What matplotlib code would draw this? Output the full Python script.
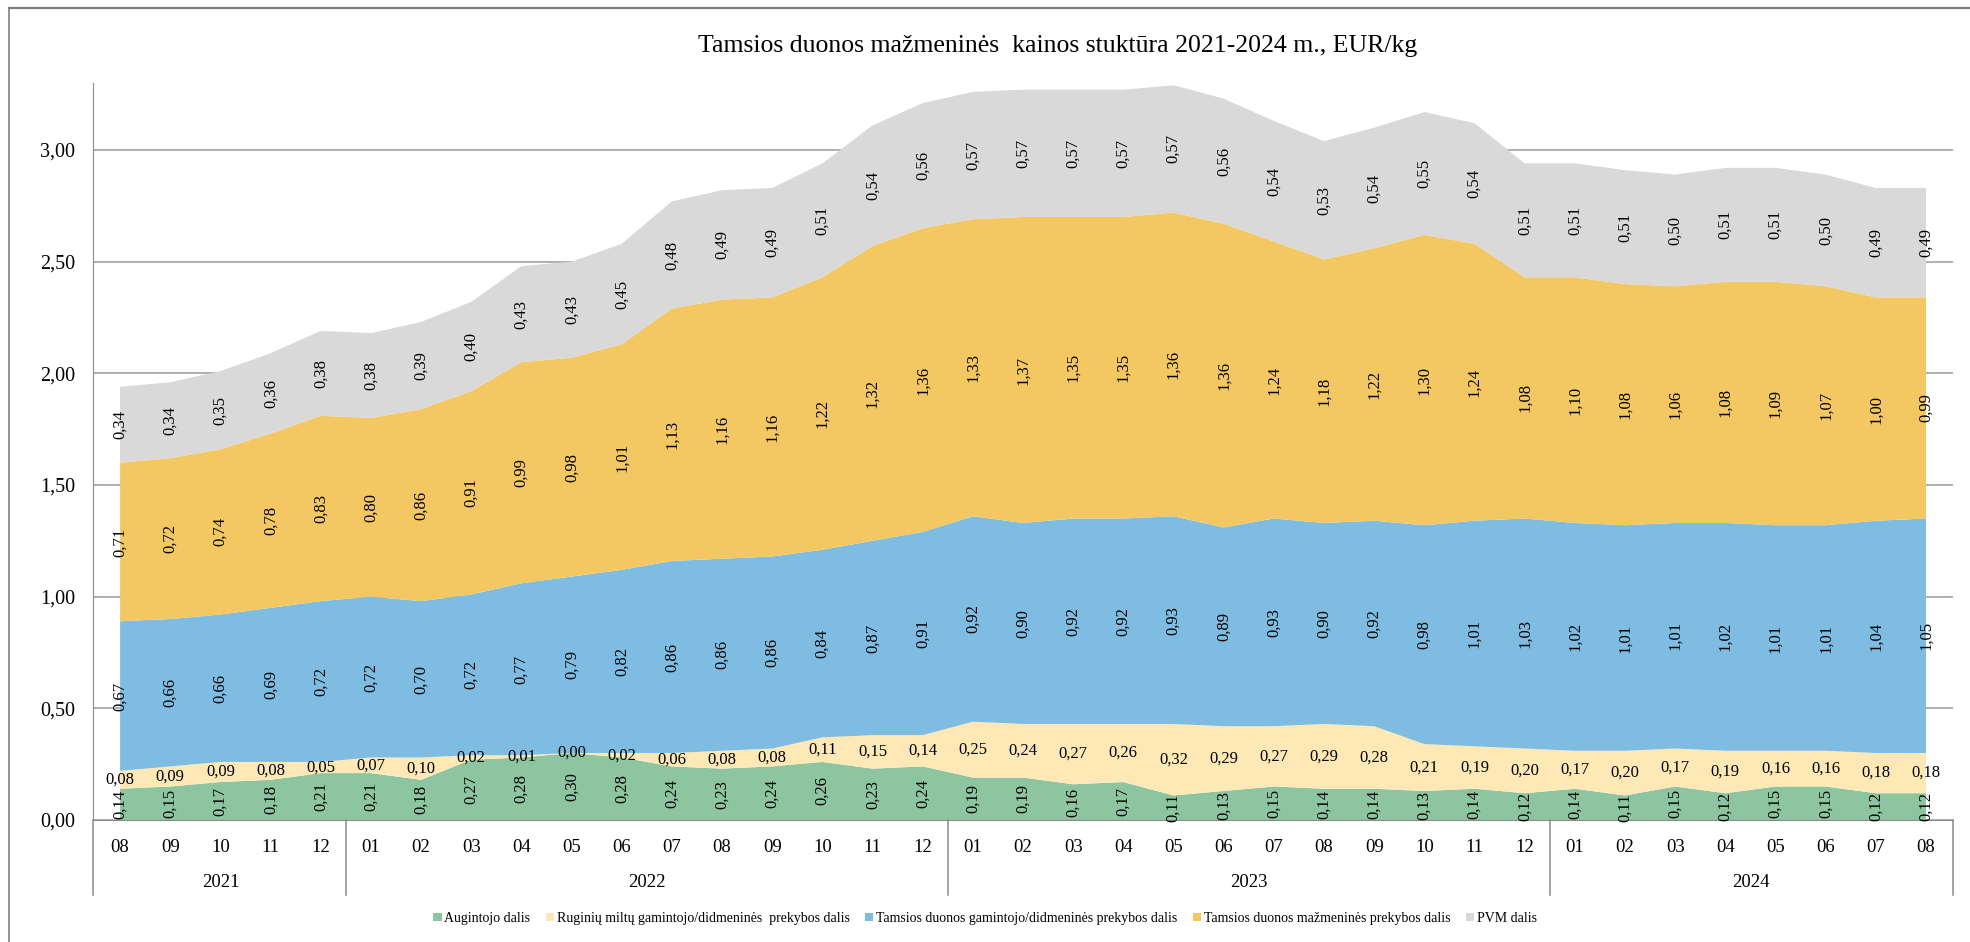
import numpy as np
import matplotlib
matplotlib.use('Agg')
from matplotlib import pyplot as plt
from matplotlib.lines import Line2D

plt.rcParams['font.family'] = ['Liberation Serif', 'DejaVu Serif']

title = 'Tamsios duonos mažmeninės  kainos stuktūra 2021-2024 m., EUR/kg'

months = ['08', '09', '10', '11', '12',
          '01', '02', '03', '04', '05', '06', '07', '08', '09', '10', '11', '12',
          '01', '02', '03', '04', '05', '06', '07', '08', '09', '10', '11', '12',
          '01', '02', '03', '04', '05', '06', '07', '08']
years = ['2021'] * 5 + ['2022'] * 12 + ['2023'] * 12 + ['2024'] * 8

augintojo = [0.14, 0.15, 0.17, 0.18, 0.21,
             0.21, 0.18, 0.27, 0.28, 0.30, 0.28, 0.24, 0.23, 0.24, 0.26, 0.23, 0.24,
             0.19, 0.19, 0.16, 0.17, 0.11, 0.13, 0.15, 0.14, 0.14, 0.13, 0.14, 0.12,
             0.14, 0.11, 0.15, 0.12, 0.15, 0.15, 0.12, 0.12]
ruginiu = [0.08, 0.09, 0.09, 0.08, 0.05,
           0.07, 0.10, 0.02, 0.01, 0.00, 0.02, 0.06, 0.08, 0.08, 0.11, 0.15, 0.14,
           0.25, 0.24, 0.27, 0.26, 0.32, 0.29, 0.27, 0.29, 0.28, 0.21, 0.19, 0.20,
           0.17, 0.20, 0.17, 0.19, 0.16, 0.16, 0.18, 0.18]
gamintojo = [0.67, 0.66, 0.66, 0.69, 0.72,
             0.72, 0.70, 0.72, 0.77, 0.79, 0.82, 0.86, 0.86, 0.86, 0.84, 0.87, 0.91,
             0.92, 0.90, 0.92, 0.92, 0.93, 0.89, 0.93, 0.90, 0.92, 0.98, 1.01, 1.03,
             1.02, 1.01, 1.01, 1.02, 1.01, 1.01, 1.04, 1.05]
mazmenines = [0.71, 0.72, 0.74, 0.78, 0.83,
              0.80, 0.86, 0.91, 0.99, 0.98, 1.01, 1.13, 1.16, 1.16, 1.22, 1.32, 1.36,
              1.33, 1.37, 1.35, 1.35, 1.36, 1.36, 1.24, 1.18, 1.22, 1.30, 1.24, 1.08,
              1.10, 1.08, 1.06, 1.08, 1.09, 1.07, 1.00, 0.99]
pvm = [0.34, 0.34, 0.35, 0.36, 0.38,
       0.38, 0.39, 0.40, 0.43, 0.43, 0.45, 0.48, 0.49, 0.49, 0.51, 0.54, 0.56,
       0.57, 0.57, 0.57, 0.57, 0.57, 0.56, 0.54, 0.53, 0.54, 0.55, 0.54, 0.51,
       0.51, 0.51, 0.50, 0.51, 0.51, 0.50, 0.49, 0.49]

labels = ['Augintojo dalis',
          'Ruginių miltų gamintojo/didmeninės  prekybos dalis',
          'Tamsios duonos gamintojo/didmeninės prekybos dalis',
          'Tamsios duonos mažmeninės prekybos dalis',
          'PVM dalis']
colors = ['#8DC5A0', '#FDE8B6', '#7EBDE1', '#F3C862', '#D9D9D9']


def fmt(v):
    return f'{v:.2f}'.replace('.', ',')


series = [augintojo, ruginiu, gamintojo, mazmenines, pvm]
x = np.arange(len(months))

fig = plt.figure(figsize=(19.7, 9.42), dpi=100)
ax = fig.add_axes([0.0472, 0.1295, 0.9442, 0.7824])

ax.stackplot(x, *series, colors=colors, labels=labels, zorder=2)
ax.set_xlim(-0.54, len(x) - 1 + 0.54)
ax.set_ylim(0, 3.3)

# gridlines behind the areas
ax.set_yticks(np.arange(0, 3.01, 0.5))
ax.set_yticklabels([fmt(v) for v in np.arange(0, 3.01, 0.5)], fontsize=14.5)
ax.yaxis.grid(True, color='#9A9A9A', lw=1.1, zorder=0)
ax.set_axisbelow(True)
ax.tick_params(axis='y', length=0, pad=13)
ax.set_xticks([])
for side in ['top', 'right']:
    ax.spines[side].set_visible(False)
ax.spines['left'].set_color('#8C8C8C')
ax.spines['bottom'].set_color('#8C8C8C')

# data labels in the middle of each band
bottom = np.zeros(len(x))
for i, s in enumerate(series):
    s = np.array(s)
    mid = bottom + s / 2
    for xi, yi, v in zip(x, mid, s):
        ax.text(xi, yi, fmt(v), ha='center', va='center', fontsize=12,
                rotation=0 if i == 1 else 90, zorder=5)
    bottom = bottom + s

# category axis: months, years and year separators
trans = ax.get_xaxis_transform()
for xi, m in zip(x, months):
    ax.text(xi, -0.037, m, transform=trans, ha='center', va='center', fontsize=13.5)

bounds = [-0.54]
for yr in sorted(set(years)):
    idx = [i for i, y in enumerate(years) if y == yr]
    ax.text((idx[0] + idx[-1]) / 2, -0.085, yr, transform=trans,
            ha='center', va='center', fontsize=13.5)
    bounds.append(idx[-1] + 0.5 if idx[-1] < len(x) - 1 else idx[-1] + 0.54)
for b in bounds:
    ax.plot([b, b], [0, -0.102], transform=trans, color='#8C8C8C', lw=1.1,
            clip_on=False)

fig.text(0.537, 0.951, title, ha='center', va='center', fontsize=18.5)

fig.legend(loc='center', bbox_to_anchor=(0.5, 0.025), ncol=5, frameon=False,
           fontsize=10, handlelength=0.6, handleheight=0.6, handletextpad=0.2,
           columnspacing=1.1)

# outer chart border (top and left visible)
fig.add_artist(Line2D([9 / 1970, 9 / 1970], [0, 1 - 8 / 942], color='#7F7F7F', lw=1.2))
fig.add_artist(Line2D([9 / 1970, 1], [1 - 8 / 942, 1 - 8 / 942], color='#7F7F7F', lw=1.6))

fig.savefig('out.png', dpi=100)
